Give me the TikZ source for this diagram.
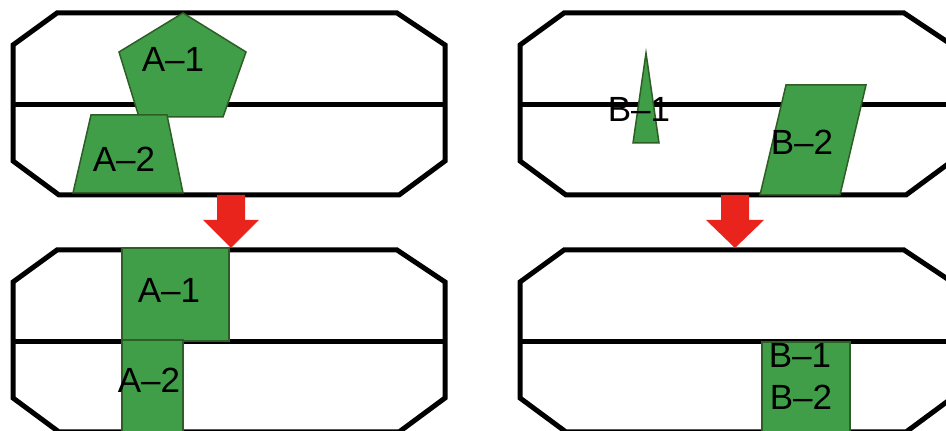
\documentclass[tikz,border=0pt]{standalone}
\usepackage{fontspec}
\setmainfont{Liberation Sans}
\usepackage{tikz}
\usetikzlibrary{positioning}

\definecolor{PartGreen}{RGB}{64,158,72}
\definecolor{PartEdge}{RGB}{46,94,37}
\definecolor{ArrowRed}{RGB}{232,36,28}

\begin{document}
\begin{tikzpicture}[x=0.5pt, y=-0.5pt,
    panel/.style={draw=black, line width=2.5pt, line join=miter, fill=white},
    part/.style={draw=PartEdge, line width=0.75pt, fill=PartGreen},
    lbl/.style={anchor=base, inner sep=0pt, font=\fontsize{17.5}{21}\selectfont},
    downarrow/.style={fill=ArrowRed}]
  \useasboundingbox (0,0) rectangle (946,431);

  % Four octagonal panels with their centre lines
  \foreach \px/\py in {13/13, 520/13, 13/250, 520/250} {
    \begin{scope}[shift={(\px,\py)}]
      \filldraw[panel] (44,0) -- (384,0) -- (432,32) -- (432,148) -- (386,182)
        -- (46,182) -- (0,148) -- (0,32) -- cycle;
      \draw[panel] (0,92) -- (432,92);
    \end{scope}
  }

  % Top left: pentagon and trapezoid
  \filldraw[part] (183,13) -- (246,52) -- (223,117) -- (139,117) -- (119,52) -- cycle;
  \filldraw[part] (91,115) -- (167,115) -- (183,193) -- (73,193) -- cycle;
  \node[lbl] (a1top) at (173,72) {A\textendash1};
  \node[lbl] (a2top) at (124,172) {A\textendash2};

  % Top right: thin triangle and parallelogram
  \filldraw[part] (646,53) -- (659,143) -- (633,143) -- cycle;
  \filldraw[part] (786,85) -- (866,85) -- (840,195) -- (760,195) -- cycle;
  \node[lbl] (b1top) at (639,122) {B\textendash1};
  \node[lbl] (b2top) at (802,155) {B\textendash2};

  % Red arrows
  \fill[downarrow] (217,195) -- (245,195) -- (245,220) -- (259,220) -- (231,248)
    -- (203,220) -- (217,220) -- cycle;
  \fill[downarrow] (721,195) -- (749,195) -- (749,220) -- (764,220) -- (735,248)
    -- (706,220) -- (721,220) -- cycle;

  % Bottom left: rectangles
  \filldraw[part] (122,248) rectangle (229,341);
  \filldraw[part] (122,340) rectangle (183,440);
  \node[lbl] (a1bot) at (169,303) {A\textendash1};
  \node[lbl] (a2bot) at (149,393) {A\textendash2};

  % Bottom right: merged rectangle
  \filldraw[part] (762,342) rectangle (850,440);
  \node[lbl] (b1bot) at (800,368) {B\textendash1};
  \node[lbl] (b2bot) at (801,410) {B\textendash2};
\end{tikzpicture}
\end{document}
